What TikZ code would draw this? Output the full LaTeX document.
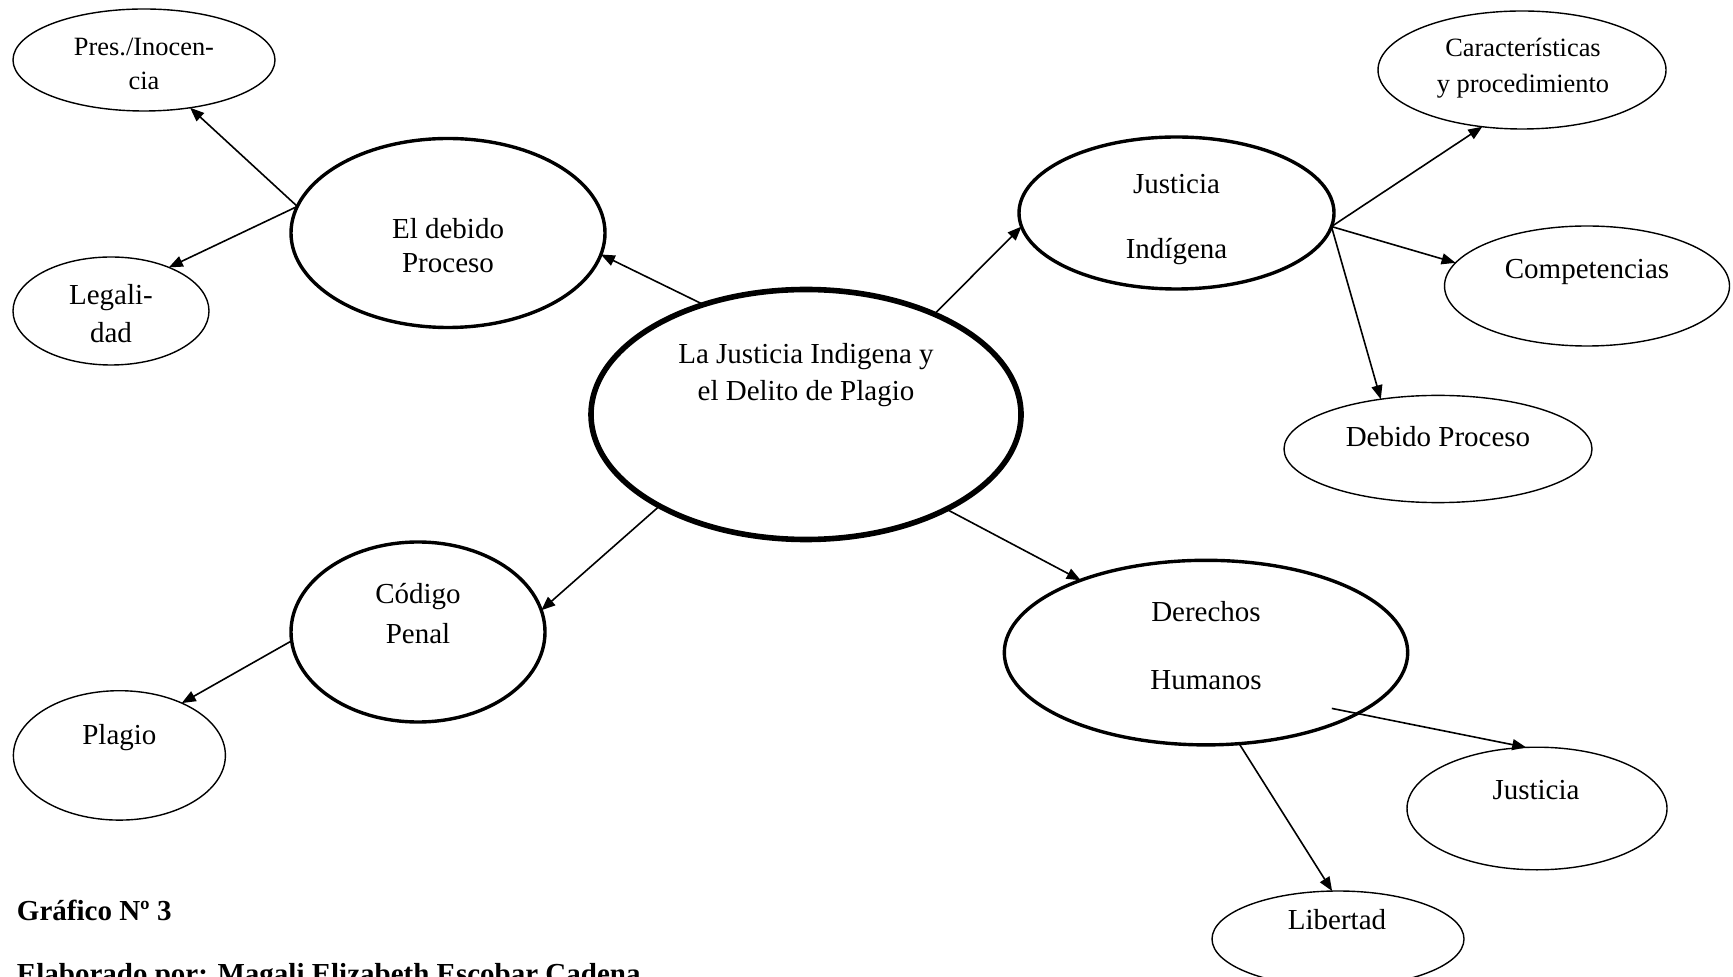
\documentclass[tikz,border=0pt]{standalone}
\usepackage{fontspec}
\setmainfont{Liberation Serif}
\usetikzlibrary{arrows.meta,calc,shapes.geometric}
\begin{document}
\begin{tikzpicture}[x=0.5pt,y=-0.5pt,
  ellthin/.style={draw,ellipse,inner sep=0pt,outer sep=0pt,line width=0.7pt},
  ellthick/.style={draw,ellipse,inner sep=0pt,outer sep=0pt,line width=1.7pt},
  ellhub/.style={draw,ellipse,inner sep=0pt,outer sep=0pt,line width=2.8pt},
  lbl/.style={anchor=base,align=center,inner sep=0pt,font=\fontsize{14.5}{17}\selectfont},
  lblsmall/.style={lbl,font=\fontsize{13.2}{17}\selectfont},
  foot/.style={anchor=base west,inner sep=0pt,font=\fontsize{14.5}{17}\selectfont\bfseries},
  arr/.style={-{Triangle[length=7pt,width=5.5pt]},line width=0.8pt}
]
\useasboundingbox (0,0) rectangle (1733,977);
\clip (0,0) rectangle (1733,977);

% ellipses
\node[ellthin,minimum width=131pt,minimum height=51pt] (pres) at (144,60) {};
\node[ellthin,minimum width=98pt,minimum height=54pt] (legal) at (111,311) {};
\node[ellthick,minimum width=157pt,minimum height=94.5pt] (deb) at (448,233) {};
\node[ellhub,minimum width=215pt,minimum height=125pt] (central) at (806,414.5) {};
\node[ellthick,minimum width=157.5pt,minimum height=76pt] (ji) at (1176.5,213) {};
\node[ellthin,minimum width=144pt,minimum height=59pt] (car) at (1522,70) {};
\node[ellthin,minimum width=142.5pt,minimum height=60pt] (comp) at (1587,286) {};
\node[ellthin,minimum width=154pt,minimum height=53.6pt] (dp) at (1438,449) {};
\node[ellthick,minimum width=127pt,minimum height=90pt] (cod) at (418,632) {};
\node[ellthin,minimum width=106pt,minimum height=64.7pt] (plag) at (119.4,755.4) {};
\node[ellthick,minimum width=201.7pt,minimum height=92.3pt] (dh) at (1206,652.6) {};
\node[ellthin,minimum width=130pt,minimum height=61.3pt] (jus) at (1537,808.5) {};
\node[ellthin,minimum width=126pt,minimum height=48pt] (lib) at (1338,939) {};

% texts (multi-line nodes: base = baseline of last line)
\node[lblsmall,font=\fontsize{13.2}{16.75}\selectfont] (tpres) at (144,89.5) {Pres./Inocen-\\cia};
\node[lbl,font=\fontsize{14.5}{19}\selectfont] (tlegal) at (111,343) {Legali-\\dad};
\node[lbl] (tdeb) at (448,273) {El debido\\Proceso};
\node[lbl,font=\fontsize{14.5}{18.5}\selectfont] (tcentral) at (806,401) {La Justicia Indigena y\\el Delito de Plagio};
\node[lbl,font=\fontsize{14.5}{32.5}\selectfont] (tji) at (1176.5,258.5) {Justicia\\Indígena};
\node[lblsmall,font=\fontsize{13.2}{17.7}\selectfont] (tcar) at (1523,92.4) {Características\\y procedimiento};
\node[lbl] (tcomp) at (1587,278.5) {Competencias};
\node[lbl] (tdp) at (1438,446.5) {Debido Proceso};
\node[lbl,font=\fontsize{14.5}{19.7}\selectfont] (tcod) at (418,643) {Código\\Penal};
\node[lbl] (tplag) at (119.4,744) {Plagio};
\node[lbl,font=\fontsize{14.5}{33.5}\selectfont] (tdh) at (1206,689) {Derechos\\Humanos};
\node[lbl] (tjus) at (1536,799) {Justicia};
\node[lbl] (tlib) at (1337,929.5) {Libertad};

\node[foot] (graf) at (16.6,920) {Gráfico Nº 3};
\node[foot] (elab) at (16.6,983) {Elaborado por: Magali Elizabeth Escobar Cadena};

% connectors
\draw[arr] (central.133) -- (deb.-8);
\draw[arr] (deb.170) -- (pres.-46);
\draw[arr] (deb.170) -- (legal.37);
\draw[arr] (central.38) -- (ji.185);
\draw[arr] (ji.-5) -- (car.235);
\draw[arr] (ji.-5) -- (comp.170);
\draw[arr] (ji.-5) -- (dp.139);
\draw[arr] (central.212) -- (cod.10);
\draw[arr] (cod.184) -- (plag.40);
\draw[arr] (central.-34) -- (dh.150);
\draw[arr] ($(dh.center)+(125.8,55.8)$) -- (jus.100);
\draw[arr] (dh.-70) -- (lib.97);
\end{tikzpicture}
\end{document}
